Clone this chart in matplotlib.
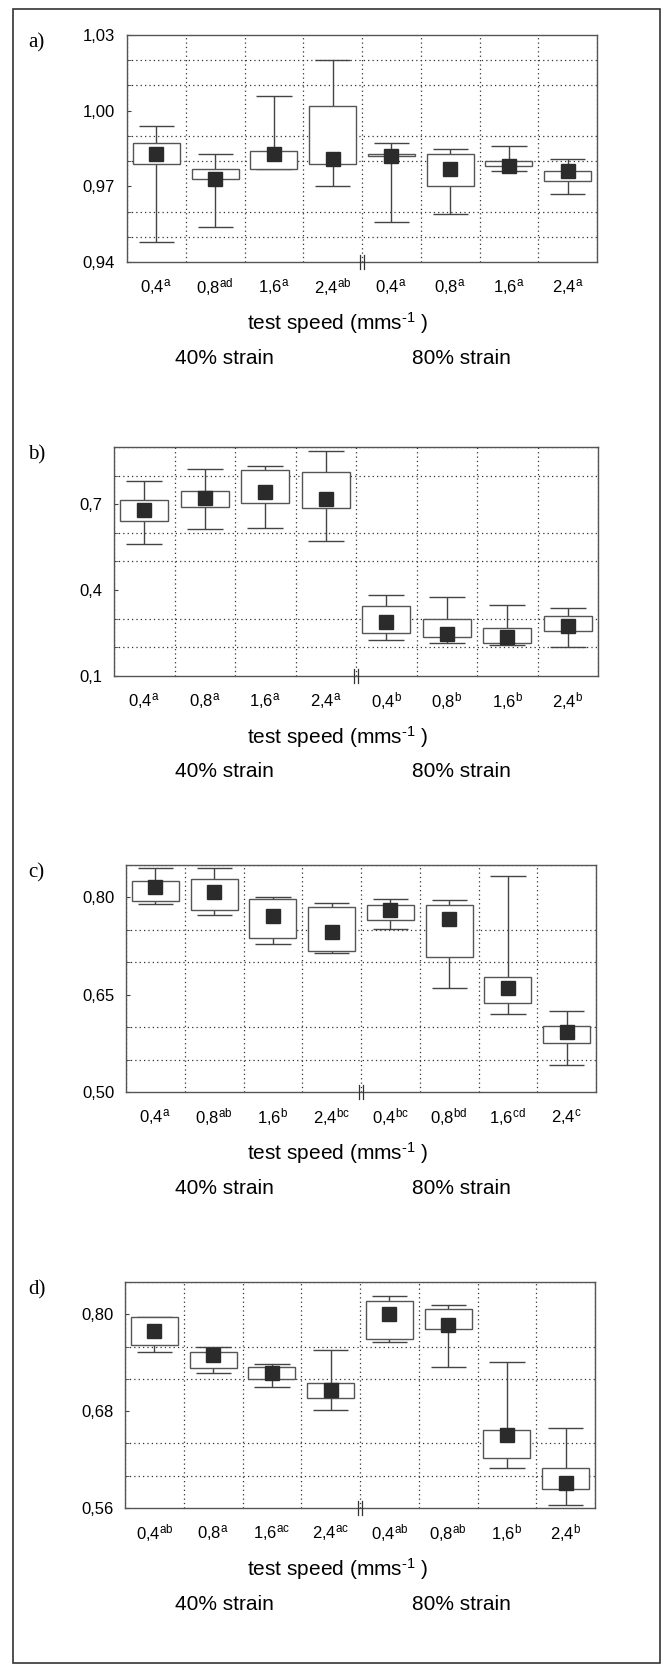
import numpy as np
import matplotlib
matplotlib.use('Agg')
import matplotlib.pyplot as plt
from matplotlib.patches import Rectangle
from matplotlib.ticker import MultipleLocator

plt.rcParams['font.family'] = ['Liberation Sans', 'DejaVu Sans']
plt.rcParams['mathtext.fontset'] = 'custom'
plt.rcParams['mathtext.rm'] = 'Liberation Sans'
plt.rcParams['mathtext.it'] = 'Liberation Sans:italic'

# test speeds (mm/s), 40% strain then 80% strain
speeds = ['0,4', '0,8', '1,6', '2,4', '0,4', '0,8', '1,6', '2,4']

# panel a)
a_letters = ['a', 'ad', 'a', 'ab', 'a', 'a', 'a', 'a']
a_wlo = [0.948, 0.954, 0.977, 0.970, 0.956, 0.959, 0.976, 0.967]
a_blo = [0.979, 0.973, 0.977, 0.979, 0.982, 0.970, 0.978, 0.972]
a_mean = [0.983, 0.973, 0.983, 0.981, 0.982, 0.977, 0.978, 0.976]
a_bhi = [0.987, 0.977, 0.984, 1.002, 0.983, 0.983, 0.980, 0.976]
a_whi = [0.994, 0.983, 1.006, 1.020, 0.987, 0.985, 0.986, 0.981]
a_yticks = [0.94, 0.97, 1.00, 1.03]
a_ylabels = ['0,94', '0,97', '1,00', '1,03']

# panel b)
b_letters = ['a', 'a', 'a', 'a', 'b', 'b', 'b', 'b']
b_wlo = [0.562, 0.613, 0.617, 0.570, 0.225, 0.214, 0.210, 0.202]
b_blo = [0.640, 0.690, 0.705, 0.688, 0.251, 0.235, 0.214, 0.258]
b_mean = [0.681, 0.723, 0.744, 0.720, 0.289, 0.246, 0.235, 0.275]
b_bhi = [0.716, 0.748, 0.821, 0.814, 0.344, 0.300, 0.266, 0.310]
b_whi = [0.780, 0.822, 0.834, 0.887, 0.384, 0.376, 0.349, 0.338]
b_yticks = [0.1, 0.4, 0.7]
b_ylabels = ['0,1', '0,4', '0,7']

# panel c)
c_letters = ['a', 'ab', 'b', 'bc', 'bc', 'bd', 'cd', 'c']
c_wlo = [0.790, 0.773, 0.728, 0.714, 0.751, 0.661, 0.620, 0.542]
c_blo = [0.795, 0.780, 0.737, 0.718, 0.765, 0.708, 0.637, 0.575]
c_mean = [0.816, 0.808, 0.771, 0.747, 0.780, 0.767, 0.660, 0.592]
c_bhi = [0.825, 0.829, 0.797, 0.785, 0.788, 0.789, 0.677, 0.602]
c_whi = [0.845, 0.845, 0.800, 0.792, 0.798, 0.796, 0.833, 0.625]
c_yticks = [0.50, 0.65, 0.80]
c_ylabels = ['0,50', '0,65', '0,80']

# panel d)
d_letters = ['ab', 'a', 'ac', 'ac', 'ab', 'ab', 'b', 'b']
d_wlo = [0.753, 0.727, 0.710, 0.682, 0.766, 0.735, 0.610, 0.564]
d_blo = [0.762, 0.734, 0.720, 0.696, 0.769, 0.782, 0.622, 0.583]
d_mean = [0.779, 0.750, 0.727, 0.706, 0.800, 0.787, 0.650, 0.591]
d_bhi = [0.797, 0.753, 0.735, 0.715, 0.817, 0.807, 0.657, 0.610]
d_whi = [0.797, 0.760, 0.739, 0.756, 0.823, 0.811, 0.741, 0.659]
d_yticks = [0.56, 0.68, 0.80]
d_ylabels = ['0,56', '0,68', '0,80']

panels = [
    ('a)', a_letters, a_wlo, a_blo, a_mean, a_bhi, a_whi, (0.94, 1.03), 0.01, a_yticks, a_ylabels),
    ('b)', b_letters, b_wlo, b_blo, b_mean, b_bhi, b_whi, (0.1, 0.9), 0.1, b_yticks, b_ylabels),
    ('c)', c_letters, c_wlo, c_blo, c_mean, c_bhi, c_whi, (0.50, 0.85), 0.05, c_yticks, c_ylabels),
    ('d)', d_letters, d_wlo, d_blo, d_mean, d_bhi, d_whi, (0.56, 0.84), 0.04, d_yticks, d_ylabels),
]

# axes boxes in pixels (left, top, right, bottom)
W, H = 667, 1666
frames = [(127, 35, 597, 262), (114, 447, 598, 676), (126, 865, 596, 1092), (125, 1282, 595, 1508)]

fig = plt.figure(figsize=(W / 100, H / 100), dpi=100)
fig.patches.append(Rectangle((13 / W, 1 - 1663 / H), 647 / W, 1654 / H, transform=fig.transFigure,
                             fill=False, ec='#333333', lw=1.2))

for (label, letters, wlo, blo, mean, bhi, whi, ylim, step, yt, ytl), (x0, y0, x1, y1) in zip(panels, frames):
    ax = fig.add_axes([x0 / W, 1 - y1 / H, (x1 - x0) / W, (y1 - y0) / H])
    x = np.arange(len(speeds))
    wlo, blo, mean, bhi, whi = map(np.array, (wlo, blo, mean, bhi, whi))

    ax.vlines(x, wlo, whi, color='#444444', lw=1, zorder=2)
    ax.hlines(wlo, x - 0.3, x + 0.3, color='#444444', lw=1, zorder=2)
    ax.hlines(whi, x - 0.3, x + 0.3, color='#444444', lw=1, zorder=2)
    ax.bar(x, bhi - blo, bottom=blo, width=0.8, facecolor='white', edgecolor='#555555', lw=1, zorder=3)
    ax.plot(x, mean, 's', ms=10, color='#2b2b2b', zorder=4)

    ax.set_xlim(-0.5, 7.5)
    ax.set_ylim(*ylim)
    ax.set_xticks(x)
    ax.set_xticklabels([f'{s}$^{{\\mathrm{{{l}}}}}$' for s, l in zip(speeds, letters)], fontsize=12)
    ax.xaxis.set_minor_locator(MultipleLocator(1, offset=0.5))
    ax.set_yticks(yt)
    ax.set_yticklabels(ytl, fontsize=12)
    ax.yaxis.set_minor_locator(MultipleLocator(step))
    ax.tick_params(axis='x', which='both', length=0, pad=10.5)
    ax.tick_params(axis='y', which='both', direction='in', length=3, pad=8.5, color='#444444')
    ax.grid(True, which='minor', axis='both', ls=(0, (1, 2.5)), color='#333333', lw=0.9)
    ax.set_axisbelow(True)
    for sp in ax.spines.values():
        sp.set_color('#555555')
        sp.set_linewidth(1)

    # axis break mark between the two strain groups
    for dx in (-0.004, 0.004):
        ax.plot([0.5 + dx, 0.5 + dx], [-0.03, 0.03], transform=ax.transAxes, color='#333333',
                lw=0.9, clip_on=False, zorder=5)

    fig.text(28 / W, 1 - (y0 + 8) / H, label, family=['Liberation Serif', 'DejaVu Serif'],
             fontsize=15, va='center', ha='left')
    fig.text(338 / W, 1 - (y1 + 61) / H, 'test speed (mms$^{\\text{-1}}$ )', fontsize=15,
             ha='center', va='center')
    fig.text(224 / W, 1 - (y1 + 96) / H, '40% strain', fontsize=15, ha='center', va='center')
    fig.text(461 / W, 1 - (y1 + 96) / H, '80% strain', fontsize=15, ha='center', va='center')

fig.savefig('out.png', dpi=100)
